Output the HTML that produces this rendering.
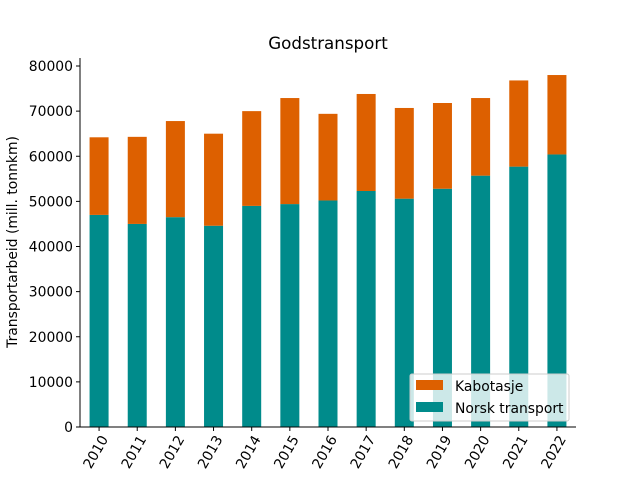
<!DOCTYPE html>
<html><head><meta charset="utf-8"><style>
body{margin:0;background:#fff;width:640px;height:480px;overflow:hidden}
text{font-family:"DejaVu Sans","Liberation Sans",sans-serif;fill:#000}
</style></head><body>
<svg id="chart" width="640" height="480" viewBox="0 0 640 480">
<text x="328" y="49" font-size="16.7" text-anchor="middle">Godstransport</text>
<g id="bars"></g>
<g id="axes"></g>
<text transform="translate(17,242) rotate(-90)" font-size="13.9" text-anchor="middle">Transportarbeid (mill. tonnkm)</text>
<text x="328" y="494" font-size="13.9" text-anchor="middle">År</text>
<g>
<rect x="410" y="374" width="159" height="47" rx="2" fill="#fff" fill-opacity="0.8" stroke="#ccc"/>
<rect x="416" y="380" width="27" height="10" fill="#dd6000"/>
<text x="455" y="391" font-size="13.9">Kabotasje</text>
<rect x="416" y="402" width="27" height="10" fill="#008b8b"/>
<text x="455" y="413" font-size="13.9">Norsk transport</text>
</g>
</svg>
<script>
const years=["2010","2011","2012","2013","2014","2015","2016","2017","2018","2019","2020","2021","2022"];
const norsk=[47000,45000,46500,44600,49000,49400,50200,52300,50600,52800,55700,57700,60400];
const kabotasje=[17200,19300,21300,20400,21000,23500,19200,21500,20100,19000,17200,19100,17600];
const yTicks=[0,10000,20000,30000,40000,50000,60000,70000,80000];
const NS="http://www.w3.org/2000/svg";
const L=80,R=576,T=58,B=427,YMAX=80000;
const sx=i=>L+(R-L)*(i+0.5)/years.length;
const sy=v=>B-(v/YMAX)*(B-66);
const bw=19;
const bars=document.getElementById('bars'),axes=document.getElementById('axes');
function mk(t,a,p){const e=document.createElementNS(NS,t);for(const k in a)e.setAttribute(k,a[k]);p.appendChild(e);return e;}
years.forEach((y,i)=>{
 const b1=mk('rect',{x:sx(i)-bw/2,y:sy(norsk[i]),width:bw,height:B-sy(norsk[i]),fill:'#008b8b'},bars);
 
 
 const tot=norsk[i]+kabotasje[i];
 const b2=mk('rect',{x:sx(i)-bw/2,y:sy(tot),width:bw,height:sy(norsk[i])-sy(tot),fill:'#dd6000'},bars);
 
 
 mk('line',{x1:sx(i),x2:sx(i),y1:B,y2:B+4,stroke:'#000'},axes);
 const t=mk('text',{transform:`translate(${sx(i)+6},${B+10}) rotate(-60)`,'font-size':13.9,'text-anchor':'end','dominant-baseline':'middle'},axes);
 t.textContent=y;
 
 
});
yTicks.forEach(v=>{
 mk('line',{x1:L-4,x2:L,y1:sy(v),y2:sy(v),stroke:'#000'},axes);
 const t=mk('text',{x:L-7,y:sy(v)+5,'font-size':13.9,'text-anchor':'end'},axes);
 t.textContent=v;
 
 
});
const ya=mk('line',{x1:L,x2:L,y1:T,y2:B,stroke:'#000'},axes);


const xa=mk('line',{x1:L,x2:R,y1:B,y2:B,stroke:'#000'},axes);


</script>
</body></html>
